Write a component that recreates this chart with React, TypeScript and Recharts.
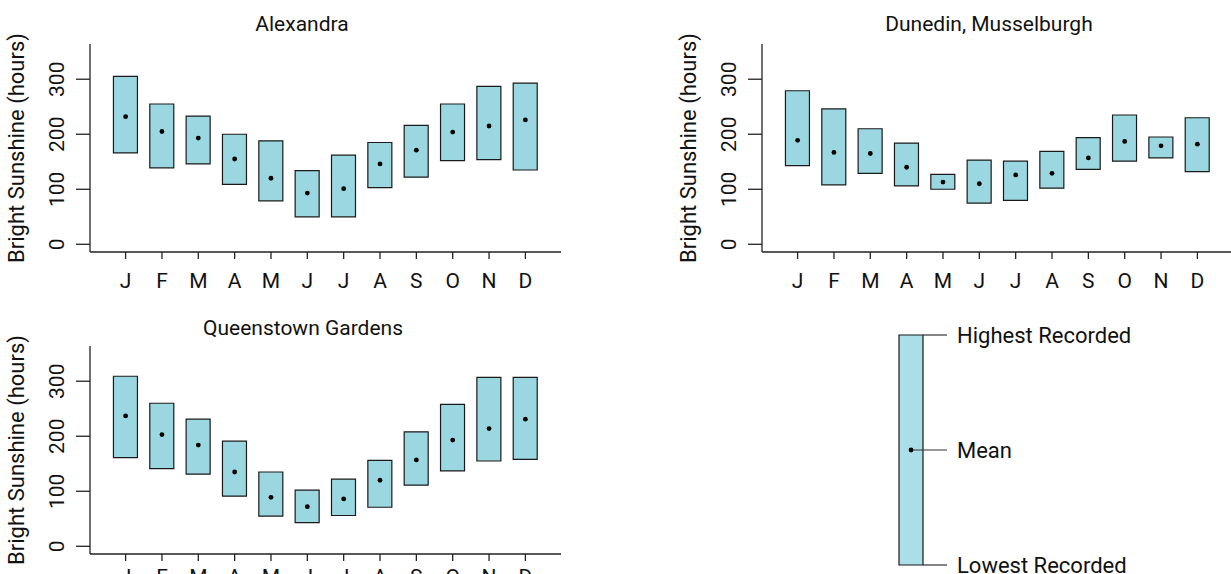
import React from 'react';
import { ComposedChart, Bar, Scatter, XAxis, YAxis, ReferenceLine } from 'recharts';

// ---- data ----
const months = ['J', 'F', 'M', 'A', 'M', 'J', 'J', 'A', 'S', 'O', 'N', 'D'];
const monthNums = [1, 2, 3, 4, 5, 6, 7, 8, 9, 10, 11, 12];
const yTicks = [0, 100, 200, 300];

const alexLow = [166, 139, 146, 109, 79, 50, 50, 103, 122, 152, 154, 135];
const alexHigh = [305, 255, 233, 200, 188, 134, 162, 185, 216, 255, 287, 293];
const alexMean = [232, 205, 193, 155, 120, 93, 101, 146, 171, 204, 215, 226];

const dunLow = [143, 108, 129, 106, 100, 75, 80, 102, 136, 151, 157, 132];
const dunHigh = [279, 246, 210, 184, 127, 153, 151, 169, 194, 235, 195, 230];
const dunMean = [189, 167, 165, 140, 113, 110, 126, 129, 157, 187, 179, 182];

const qtLow = [161, 141, 131, 91, 55, 43, 56, 71, 111, 137, 155, 158];
const qtHigh = [309, 260, 231, 191, 135, 102, 122, 156, 208, 258, 307, 307];
const qtMean = [237, 203, 184, 135, 89, 72, 86, 120, 157, 193, 214, 231];

const titles = ['Alexandra', 'Dunedin, Musselburgh', 'Queenstown Gardens'];
const yLabel = 'Bright Sunshine (hours)';
const legendLabels = ['Highest Recorded', 'Mean', 'Lowest Recorded'];
const legendLow = [0];
const legendHigh = [100];
const legendMean = [50];

// ---- styles ----
const FONT = 'Roboto, "DejaVu Sans", sans-serif';
const INK = '#111';
const AXIS = '#222';
const BOX_FILL = '#9BD7E1';
const LEGEND_FILL = '#ABDFE8';
const FS = 21;

function buildRows(low: number[], high: number[], mean: number[]) {
  return months.map((label, i) => ({ m: i + 1, label, range: [low[i], high[i]], mean: mean[i] }));
}

const alexRows = buildRows(alexLow, alexHigh, alexMean);
const dunRows = buildRows(dunLow, dunHigh, dunMean);
const qtRows = buildRows(qtLow, qtHigh, qtMean);
const legendRows = [{ m: 0.25, range: [legendLow[0], legendHigh[0]], mean: legendMean[0] }];

const YTick = (props: any) => {
  const { x, y, payload } = props;
  const bx = x - 10;
  return (
    <text x={bx} y={y} transform={`rotate(-90, ${bx}, ${y})`} textAnchor="middle" fontSize={FS} fill={INK} fontFamily={FONT}>
      {payload.value}
    </text>
  );
};

const YLabelContent = (props: any) => {
  const vb = props.viewBox || { x: 0, y: 44, width: 90, height: 208 };
  const cx = vb.x + 24;
  const cy = vb.y + vb.height / 2;
  return (
    <text x={cx} y={cy} transform={`rotate(-90, ${cx}, ${cy})`} textAnchor="middle" fontSize={22} fill={INK} fontFamily={FONT}>
      {yLabel}
    </text>
  );
};

const Dot = (props: any) => <circle cx={props.cx} cy={props.cy} r={2.4} fill="#000" />;

function Panel({ rows, width, right, tickMargin = 14 }: { rows: any[]; width: number; right: number; tickMargin?: number }) {
  return (
    <ComposedChart width={width} height={300} data={rows} margin={{ top: 44, right, bottom: 0, left: 0 }}>
      <XAxis
        type="number"
        dataKey="m"
        domain={[0.02, 12.98]}
        ticks={monthNums}
        interval={0}
        allowDataOverflow
        tickFormatter={(v: number) => months[v - 1]}
        height={48}
        tickSize={7}
        tickMargin={tickMargin}
        axisLine={{ stroke: AXIS, strokeWidth: 1.3 }}
        tickLine={{ stroke: AXIS, strokeWidth: 1.3 }}
        tick={{ fontSize: FS, fill: INK, fontFamily: FONT }}
      />
      <YAxis
        type="number"
        domain={[-14, 364]}
        ticks={yTicks}
        interval={0}
        allowDataOverflow
        width={90}
        tickSize={14}
        axisLine={{ stroke: AXIS, strokeWidth: 1.3 }}
        tickLine={{ stroke: AXIS, strokeWidth: 1.3 }}
        tick={<YTick />}
        label={{ content: <YLabelContent /> }}
      />
      <Bar dataKey="range" barSize={24} fill={BOX_FILL} stroke="#1a1a1a" strokeWidth={1.2} isAnimationActive={false} />
      <Scatter dataKey="mean" fill="#000" shape={<Dot />} isAnimationActive={false} />
    </ComposedChart>
  );
}

function LegendPanel() {
  const lbl = (value: string) => ({ value, position: 'right' as const, offset: 10, fill: INK, fontSize: 22, fontFamily: FONT });
  return (
    <ComposedChart width={371} height={254} data={legendRows} margin={{ top: 15, right: 284, bottom: 9, left: 39 }}>
      <XAxis type="number" dataKey="m" domain={[0, 1]} hide />
      <YAxis type="number" domain={[0, 100]} hide />
      <Bar dataKey="range" barSize={24} fill={LEGEND_FILL} stroke="#1a1a1a" strokeWidth={1.2} isAnimationActive={false} />
      <Scatter dataKey="mean" fill="#000" shape={<Dot />} isAnimationActive={false} />
      <ReferenceLine segment={[{ x: 0.5, y: legendHigh[0] }, { x: 1, y: legendHigh[0] }]} stroke="#333" strokeWidth={1.2} label={lbl(legendLabels[0])} ifOverflow="visible" />
      <ReferenceLine segment={[{ x: 0.25, y: legendMean[0] }, { x: 1, y: legendMean[0] }]} stroke="#333" strokeWidth={1.2} label={lbl(legendLabels[1])} ifOverflow="visible" />
      <ReferenceLine segment={[{ x: 0.5, y: legendLow[0] }, { x: 1, y: legendLow[0] }]} stroke="#333" strokeWidth={1.2} label={lbl(legendLabels[2])} ifOverflow="visible" />
    </ComposedChart>
  );
}

export default function App() {
  return (
    <div style={{ position: 'absolute', left: 0, top: 0, width: 1231, height: 574, overflow: 'hidden', background: '#fff', fontFamily: FONT }}>
      <div style={{ position: 'absolute', left: 0, top: 0 }}>
        <Panel rows={alexRows} width={615} right={54} />
      </div>
      <div style={{ position: 'absolute', left: 672, top: 0 }}>
        <Panel rows={dunRows} width={561} right={0} />
      </div>
      <div style={{ position: 'absolute', left: 0, top: 302 }}>
        <Panel rows={qtRows} width={615} right={54} tickMargin={8} />
      </div>
      <div style={{ position: 'absolute', left: 860, top: 320 }}>
        <LegendPanel />
      </div>
      <svg width={1231} height={574} style={{ position: 'absolute', left: 0, top: 0, pointerEvents: 'none' }}>
        <text x={302} y={31} textAnchor="middle" fontSize={FS} fill={INK} fontFamily={FONT}>{titles[0]}</text>
        <text x={989} y={31} textAnchor="middle" fontSize={FS} fill={INK} fontFamily={FONT}>{titles[1]}</text>
        <text x={303} y={335} textAnchor="middle" fontSize={FS} fill={INK} fontFamily={FONT}>{titles[2]}</text>
      </svg>
    </div>
  );
}
